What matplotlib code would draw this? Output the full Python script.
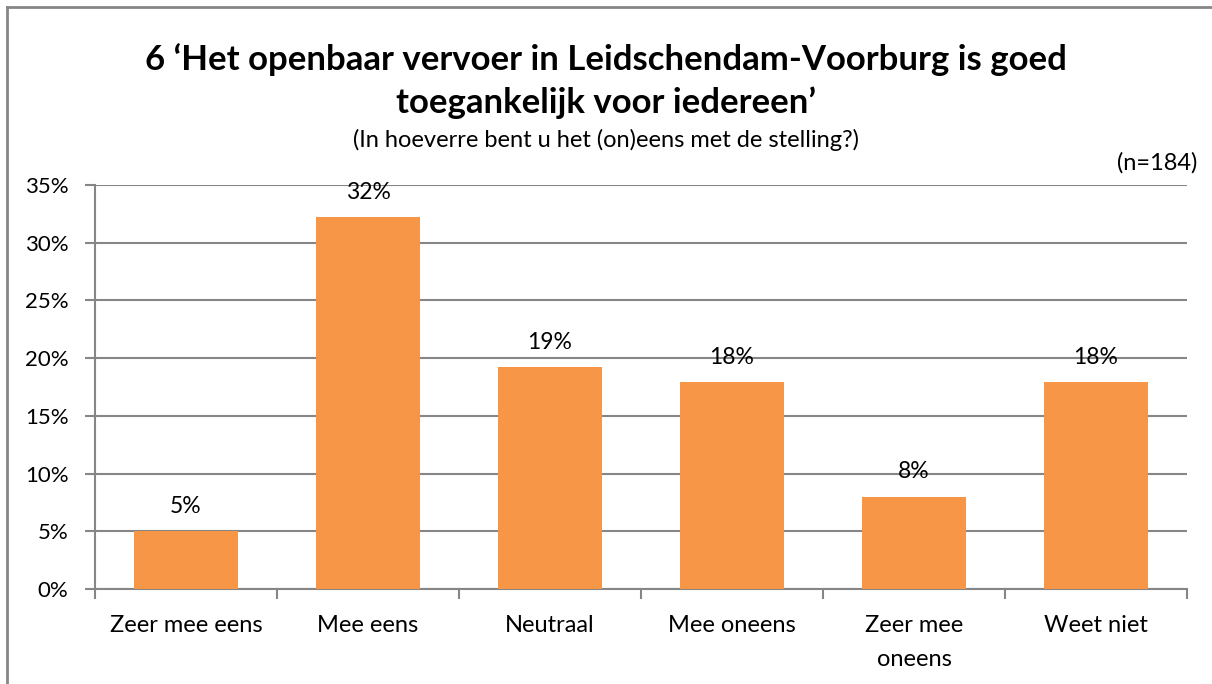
import matplotlib
matplotlib.use("Agg")
import matplotlib.pyplot as plt
from matplotlib.lines import Line2D

categories = ["Zeer mee eens", "Mee eens", "Neutraal", "Mee oneens", "Zeer mee\noneens", "Weet niet"]
values = [5.0, 32.2, 19.2, 17.9, 8.0, 17.9]
labels = ["5%", "32%", "19%", "18%", "8%", "18%"]
yticks = [0, 5, 10, 15, 20, 25, 30, 35]

plt.rcParams['font.family'] = ['Lato', 'DejaVu Sans']

fig = plt.figure(figsize=(12.12, 6.84), dpi=100)
ax = fig.add_axes([95/1212, 1-589/684, (1187-95)/1212, (589-185)/684])

gray = "#868686"
x = list(range(len(categories)))
ax.bar(x, values, width=0.57, color="#F79646", zorder=3)
for xi, v, lab in zip(x, values, labels):
    ax.annotate(lab, (xi, v), xytext=(0, 18), textcoords="offset points",
                ha="center", va="center", fontsize=16.5, color="#000000")

ax.set_xlim(-0.5, len(categories) - 0.5)
ax.set_ylim(0, 35)
ax.set_yticks(yticks)
ax.set_yticklabels([f"{t}%" for t in yticks], fontsize=16)
ax.yaxis.grid(True, color=gray, linewidth=1.5, zorder=0)
ax.set_axisbelow(True)

ax.set_xticks(x)
ax.set_xticklabels(categories, fontsize=17, linespacing=1.75)
ax.set_xticks([i - 0.5 for i in range(len(categories) + 1)], minor=True)
ax.tick_params(axis="x", which="major", length=0, pad=19)
ax.tick_params(axis="x", which="minor", length=7, width=1.5, color=gray, direction="out")
ax.tick_params(axis="y", length=7, width=1.5, color=gray, pad=12)

for s in ["top", "right"]:
    ax.spines[s].set_visible(False)
for s in ["left", "bottom"]:
    ax.spines[s].set_color(gray)
    ax.spines[s].set_linewidth(1.5)

fig.text(0.5, 1-60/684, "6 \u2018Het openbaar vervoer in Leidschendam-Voorburg is goed",
         ha="center", va="center", fontsize=25, fontweight="bold")
fig.text(0.5, 1-103/684, "toegankelijk voor iedereen\u2019",
         ha="center", va="center", fontsize=25, fontweight="bold")
fig.text(0.5, 1-140/684, "(In hoeverre bent u het (on)eens met de stelling?)",
         ha="center", va="center", fontsize=17)
fig.text(1197/1212, 1-163/684, "(n=184)", ha="right", va="center", fontsize=17)

# figure border (left and top visible)
fig.add_artist(Line2D([7/1212, 7/1212], [0, 1-7/684], color=gray, linewidth=2, transform=fig.transFigure))
fig.add_artist(Line2D([7/1212, 1], [1-7/684, 1-7/684], color=gray, linewidth=2, transform=fig.transFigure))

fig.savefig("out.png", dpi=100)
